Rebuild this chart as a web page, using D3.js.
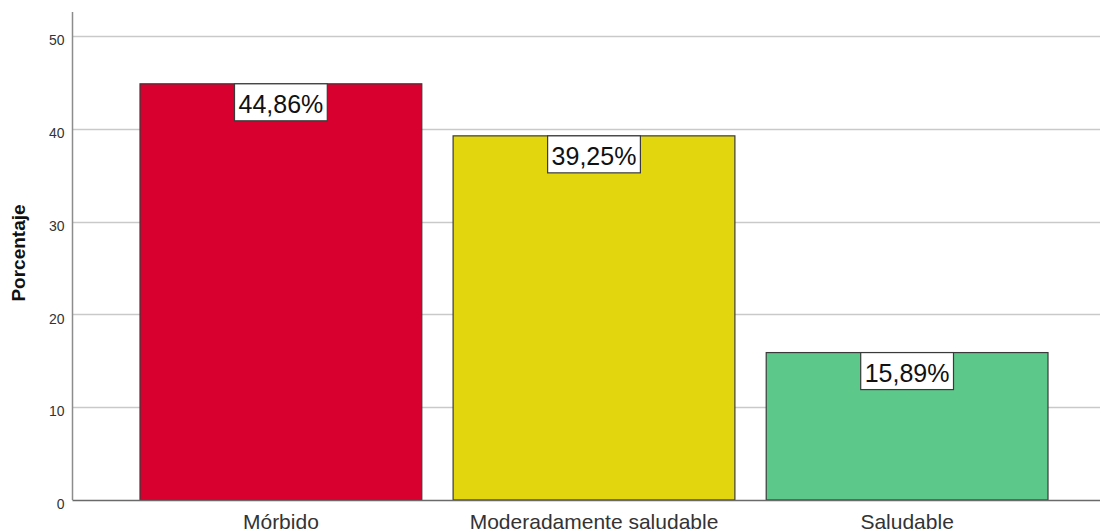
<!DOCTYPE html>
<html>
<head>
<meta charset="utf-8">
<script src="https://cdn.jsdelivr.net/npm/d3@7"></script>
<style>
  html, body { margin: 0; padding: 0; background: #fff; }
  svg { display: block; font-family: "Liberation Sans", Arial, sans-serif; }
</style>
</head>
<body>
<svg id="chart" width="1102" height="531"></svg>
<script>
const categories = ["Mórbido", "Moderadamente saludable", "Saludable"];
const values = [44.86, 39.25, 15.89];
const labels = ["44,86%", "39,25%", "15,89%"];
const colors = ["#d7002e", "#e2d60f", "#5cc98a"];
const yTicks = [0, 10, 20, 30, 40, 50];
const yTitle = "Porcentaje";

const svg = d3.select("#chart");
const x0 = 72.5, x1 = 1100, yBottom = 500, yTop = 12;

const y = d3.scaleLinear().domain([0, 52.6]).range([yBottom, yTop]);
const x = d3.scaleBand().domain(categories).range([140, 1048]).paddingInner(0.1).paddingOuter(0);

// gridlines
svg.append("g").selectAll("line").data(yTicks.filter(d => d > 0)).join("line")
  .attr("x1", x0).attr("x2", x1)
  .attr("y1", d => Math.round(y(d)) + 0.5).attr("y2", d => Math.round(y(d)) + 0.5)
  .attr("stroke", "#c9c9c9").attr("stroke-width", 1.5);

// y axis
const yAxis = d3.axisLeft(y).tickValues(yTicks).tickSize(0).tickPadding(8).tickFormat(d3.format("d"));
const gy = svg.append("g").attr("transform", `translate(${x0},0)`).call(yAxis);
gy.select(".domain").remove();
gy.selectAll("text").attr("font-size", 14).attr("fill", "#333").attr("dy", "0.62em")
  .attr("font-family", "Liberation Sans, Arial, sans-serif");
svg.append("line").attr("x1", x0).attr("x2", x0).attr("y1", yTop).attr("y2", yBottom)
  .attr("stroke", "#8c8c8c").attr("stroke-width", 1.5);

// bars
svg.append("g").selectAll("rect").data(categories).join("rect")
  .attr("x", d => x(d)).attr("width", x.bandwidth())
  .attr("y", (d, i) => y(values[i])).attr("height", (d, i) => yBottom - y(values[i]))
  .attr("fill", (d, i) => colors[i]).attr("stroke", "#3a3a3a").attr("stroke-width", 1.2);

// bottom axis line
svg.append("line").attr("x1", x0).attr("x2", x1).attr("y1", yBottom + 0.5).attr("y2", yBottom + 0.5)
  .attr("stroke", "#6a6a6a").attr("stroke-width", 1.3);

// x axis labels
const xAxis = d3.axisBottom(x).tickSize(0).tickPadding(14);
const gx = svg.append("g").attr("transform", `translate(0,${yBottom})`).call(xAxis);
gx.select(".domain").remove();
gx.selectAll("text").attr("font-size", 21).attr("fill", "#333").attr("dy", "0.71em")
  .attr("font-family", "Liberation Sans, Arial, sans-serif");

// value labels
const lg = svg.append("g").selectAll("g").data(categories).join("g");
lg.each(function(d, i) {
  const g = d3.select(this);
  const cx = x(d) + x.bandwidth() / 2;
  const top = y(values[i]);
  const t = g.append("text").attr("x", cx).attr("y", top + 29).attr("text-anchor", "middle")
    .attr("font-size", 25).attr("fill", "#111").text(labels[i]);
  const bb = t.node().getBBox();
  const w = bb.width + 8;
  g.insert("rect", "text").attr("x", cx - w / 2).attr("y", top).attr("width", w).attr("height", 37)
    .attr("fill", "#fff").attr("stroke", "#3a3a3a").attr("stroke-width", 1.2);
});

// y title
svg.append("text").attr("transform", "translate(25,253) rotate(-90)").attr("text-anchor", "middle")
  .attr("font-size", 19).attr("font-weight", "bold").attr("fill", "#111").text(yTitle);
</script>
</body>
</html>
